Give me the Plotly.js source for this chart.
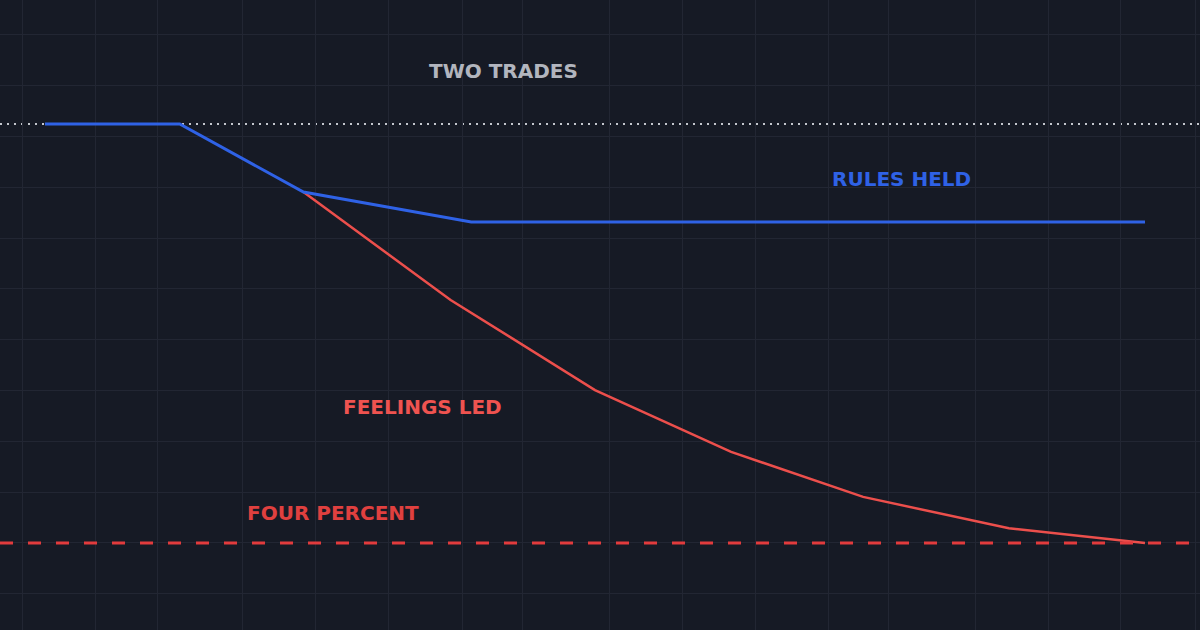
<!DOCTYPE html>
<html>
<head>
<meta charset="utf-8">
<script src="https://cdn.plot.ly/plotly-3.0.1.min.js"></script>
<style>
  html, body { margin: 0; padding: 0; background: #161a25; }
  #chart { width: 1200px; height: 630px; }
</style>
</head>
<body>
<div id="chart"></div>
<script>
// step index of each point (trade session) and drawdown in percent
var rulesX = [0, 0.98, 1.88, 3.1, 8];
var rulesY = [0, 0, -0.65, -0.935, -0.935];

var feelX = [1.88, 2.95, 4.0, 4.99, 5.95, 7.01, 8];
var feelY = [-0.65, -1.68, -2.54, -3.13, -3.56, -3.86, -4.0];

var startLevel = 0;
var limitLevel = -4;

// vertical grid positions (time axis, not evenly spaced)
var gridX = [-0.167, 0.364, 0.815, 1.433, 1.964, 2.495, 3.033, 3.476, 4.102,
             4.633, 5.164, 5.695, 6.138, 6.764, 7.295, 7.825, 8.364];

var labels = ['TWO TRADES', 'RULES HELD', 'FEELINGS LED', 'FOUR PERCENT'];

var data = [
  { x: feelX, y: feelY, type: 'scatter', mode: 'lines',
    line: { color: '#ec4f4c', width: 2.5 }, hoverinfo: 'skip' },
  { x: rulesX, y: rulesY, type: 'scatter', mode: 'lines',
    line: { color: '#2f62e6', width: 3 }, hoverinfo: 'skip' }
];

var font = 'DejaVu Sans, Verdana, sans-serif';
function label(txt, x, y, color) {
  return { text: '<b>' + txt + '</b>', xref: 'paper', yref: 'paper',
           x: x / 1200, y: 1 - y / 630, showarrow: false,
           xanchor: 'center', yanchor: 'middle',
           font: { family: font, size: 20, color: color } };
}

var layout = {
  width: 1200, height: 630,
  margin: { l: 0, r: 0, t: 0, b: 0 },
  paper_bgcolor: '#161a25',
  plot_bgcolor: '#161a25',
  showlegend: false,
  xaxis: {
    range: [-0.327, 8.4],
    tickmode: 'array', tickvals: gridX,
    showticklabels: false, zeroline: false, ticks: '',
    showgrid: true, gridcolor: '#222633', gridwidth: 1
  },
  yaxis: {
    range: [-4.831, 1.184],
    tick0: -4, dtick: 0.485,
    showticklabels: false, zeroline: false, ticks: '',
    showgrid: true, gridcolor: '#222633', gridwidth: 1
  },
  shapes: [
    { type: 'line', layer: 'between', xref: 'paper', x0: 0, x1: 1,
      yref: 'y', y0: startLevel, y1: startLevel,
      line: { color: '#c3c6cd', width: 2, dash: '2px,5px' } },
    { type: 'line', layer: 'above', xref: 'paper', x0: 0, x1: 1,
      yref: 'y', y0: limitLevel, y1: limitLevel,
      line: { color: '#e23b3d', width: 3, dash: '13px,15px' } }
  ],
  annotations: [
    label(labels[0], 503, 71, '#b2b5be'),
    label(labels[1], 901, 179, '#2f62e6'),
    label(labels[2], 422, 407, '#ef5350'),
    label(labels[3], 333, 513, '#e0403f')
  ]
};

Plotly.newPlot('chart', data, layout, { staticPlot: true });
</script>
</body>
</html>
